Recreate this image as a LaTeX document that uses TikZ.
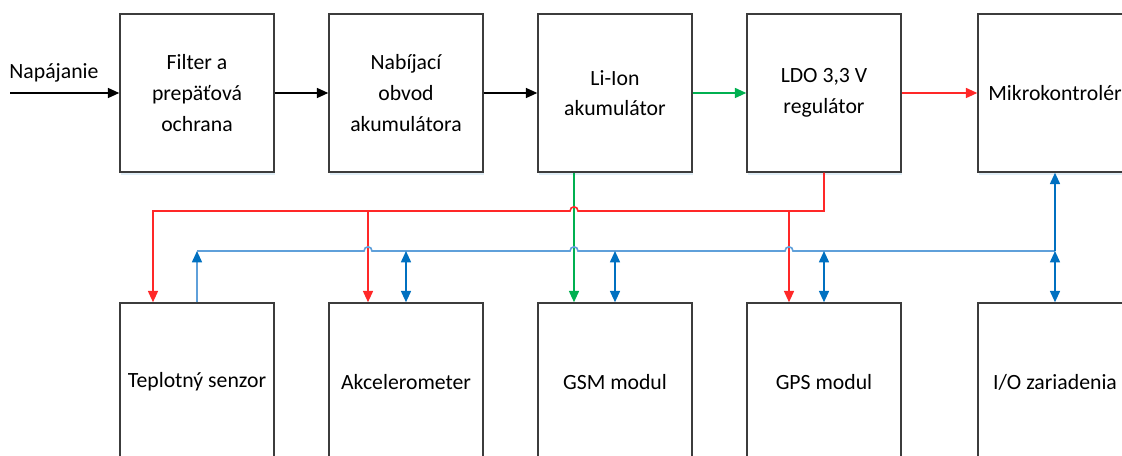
\documentclass[tikz,border=0pt]{standalone}
\usepackage{fontspec}
\setmainfont{Carlito}
\usetikzlibrary{arrows.meta,shadows}
\definecolor{boxline}{RGB}{60,60,60}
\definecolor{rd}{RGB}{255,40,40}
\definecolor{gr}{RGB}{0,176,80}
\definecolor{lb}{RGB}{95,160,218}
\definecolor{db}{RGB}{0,112,192}
\tikzset{
  x=0.75pt, y=-0.75pt,
  blockbox/.style={draw=boxline, line width=1.1pt, fill=white, minimum width=115.5pt, minimum height=118.5pt,
    inner sep=0pt, align=center, font=\fontsize{16.3}{23}\selectfont,
    drop shadow={opacity=0.12, shadow xshift=1pt, shadow yshift=-2pt, fill=db}},
  tri/.style={-{Triangle[length=8.5pt,width=7.5pt]}},
  dtri/.style={{Triangle[length=8.5pt,width=7.5pt]}-{Triangle[length=8.5pt,width=7.5pt]}},
  blk/.style={line width=1pt, black, tri},
  redw/.style={line width=1.2pt, rd},
  grw/.style={line width=1.2pt, gr},
  lbw/.style={line width=1.2pt, lb},
  dbw/.style={line width=1.2pt, db, dtri},
}
\begin{document}
\begin{tikzpicture}
\useasboundingbox (0,0) rectangle (1122,456);
\clip (0,0) rectangle (1122,456);
% top row
\node[blockbox] (f1)  at (197,93)  {Filter a\\prepäťová\\ochrana};
\node[blockbox] (nab) at (406,93)  {Nabíjací\\obvod\\akumulátora};
\node[blockbox] (li)  at (615,93)  {Li-Ion\\akumulátor};
\node[blockbox] (ldo) at (824,93)  {LDO 3,3 V\\regulátor};
\node[blockbox] (mcu) at (1055,93) {Mikrokontrolér};
% bottom row
\node[blockbox] (tep) at (197,382)  {Teplotný senzor};
\node[blockbox] (akc) at (406,382)  {Akcelerometer};
\node[blockbox] (gsm) at (615,382)  {GSM modul};
\node[blockbox] (gps) at (824,382)  {GPS modul};
\node[blockbox] (io)  at (1055,382) {I/O zariadenia};
% input
\coordinate (in) at (10,93);
\node[font=\fontsize{16.3}{23}\selectfont, anchor=base] (nap) at (54,79) {Napájanie};
\draw[blk] (in) -- (f1.west);
\draw[blk] (f1) -- (nab);
\draw[blk] (nab) -- (li);
\draw[line width=1.2pt, gr, tri] (li) -- (ldo);
\draw[line width=1.2pt, rd, tri] (ldo) -- (mcu);
% helper coordinates
\coordinate (gx) at (574,0);
\coordinate (rA) at (153,0);
\coordinate (rB) at (368,0);
\coordinate (rC) at (789,0);
\coordinate (rbus) at (0,211);
\coordinate (bbus) at (0,251);
% green
\draw[grw, tri] (li.south -| gx) -- (gsm.north -| gx);
% red bus
\draw[redw, tri] (ldo.south) -- (ldo.south |- rbus) -- (578,211)
   .. controls (578,205.5) and (570,205.5) .. (570,211)
   -- (rA |- rbus) -- (tep.north -| rA);
\draw[redw, tri] (rB |- rbus) -- (akc.north -| rB);
\draw[redw, tri] (rC |- rbus) -- (gps.north -| rC);
% blue bus
\draw[lbw, -{Triangle[length=8.5pt,width=7.5pt,color=db]}] (tep.north) -- (tep.north |- bbus);
\draw[lbw] (tep.north |- bbus) -- (364,251)
   .. controls (364,245.5) and (372,245.5) .. (372,251)
   -- (570,251) .. controls (570,245.5) and (578,245.5) .. (578,251)
   -- (785,251) .. controls (785,245.5) and (793,245.5) .. (793,251)
   -- (io.north |- bbus);
\draw[dbw] (akc.north |- bbus) -- (akc.north);
\draw[dbw] (gsm.north |- bbus) -- (gsm.north);
\draw[dbw] (gps.north |- bbus) -- (gps.north);
\draw[dbw] (io.north |- bbus) -- (io.north);
\draw[line width=1.2pt, db, tri] (io.north |- bbus) -- (mcu.south);
\end{tikzpicture}
\end{document}
